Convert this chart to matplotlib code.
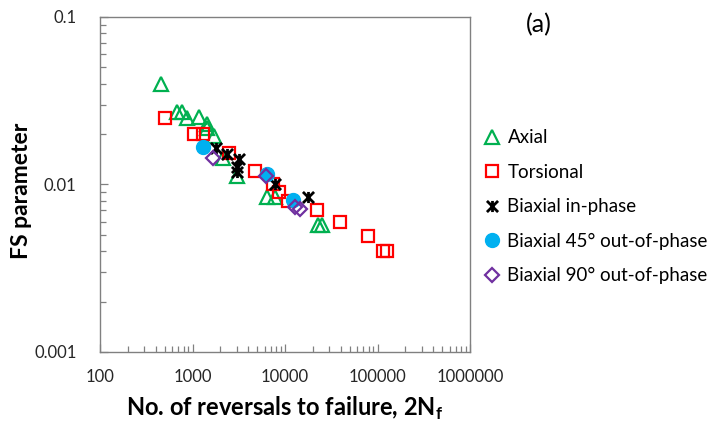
import matplotlib.pyplot as plt
from matplotlib.path import Path
from matplotlib.ticker import FixedLocator, LogLocator, NullFormatter

plt.rcParams["font.family"] = ["Lato", "DejaVu Sans"]

# reversals to failure (2Nf) and FS parameter for each loading path
axial_n = [453, 671, 764, 865, 1175, 1449, 1422, 1687, 2138, 3027, 6340, 7800, 22750, 25120]
axial_fs = [0.0397, 0.0270, 0.0270, 0.0248, 0.0252, 0.0230, 0.0216, 0.0195, 0.0143, 0.0112,
            0.0084, 0.0084, 0.0057, 0.0057]

torsional_n = [505, 1038, 1309, 2500, 4744, 7480, 8670, 10670, 21980, 39360, 79600, 115600, 125700]
torsional_fs = [0.0251, 0.0201, 0.0201, 0.0154, 0.0120, 0.0101, 0.0090, 0.0080, 0.0070, 0.0060,
                0.00495, 0.0040, 0.0040]

inphase_n = [1795, 2345, 3206, 3000, 3000, 7800, 17870]
inphase_fs = [0.0166, 0.0151, 0.0141, 0.0127, 0.0119, 0.0101, 0.0084]

oop45_n = [1310, 6340, 12080]
oop45_fs = [0.0167, 0.01148, 0.0081]

oop90_n = [1649, 6240, 12820, 14520]
oop90_fs = [0.01445, 0.0112, 0.0073, 0.00714]

x_ticks = [100, 1000, 10000, 100000, 1000000]
y_ticks = [0.001, 0.01, 0.1]

# Excel-style star: an X crossed by a short vertical bar
star = Path(
    [(-1, -1), (1, 1), (-1, 1), (1, -1), (0, -1), (0, 1)],
    [Path.MOVETO, Path.LINETO, Path.MOVETO, Path.LINETO, Path.MOVETO, Path.LINETO],
)

fig = plt.figure(figsize=(7.15, 4.24), dpi=100)
ax = fig.add_axes([0.1399, 0.170, 0.5175, 0.790])

ax.plot(axial_n, axial_fs, ls="none", marker="^", ms=10, mfc="none", mec="#00B050", mew=1.6,
        label="Axial")
ax.plot(torsional_n, torsional_fs, ls="none", marker="s", ms=8.5, mfc="none", mec="#FF0000",
        mew=1.6, label="Torsional")
ax.plot(inphase_n, inphase_fs, ls="none", marker=star, ms=8, mfc="none", mec="black", mew=2.0,
        label="Biaxial in-phase")
ax.plot(oop45_n, oop45_fs, ls="none", marker="o", ms=10, mfc="#00B0F0", mec="#00B0F0",
        label="Biaxial 45° out-of-phase")
ax.plot(oop90_n, oop90_fs, ls="none", marker="D", ms=7.5, mfc="none", mec="#7030A0", mew=1.6,
        label="Biaxial 90° out-of-phase")

ax.set_xscale("log")
ax.set_yscale("log")
ax.set_xlim(100, 1000000)
ax.set_ylim(0.001, 0.1)
ax.xaxis.set_major_locator(FixedLocator(x_ticks))
ax.yaxis.set_major_locator(FixedLocator(y_ticks))
ax.set_xticklabels([str(v) for v in x_ticks])
ax.set_yticklabels([str(v) for v in y_ticks])
for axis in (ax.xaxis, ax.yaxis):
    axis.set_minor_locator(LogLocator(base=10, subs=range(2, 10)))
    axis.set_minor_formatter(NullFormatter())

ax.tick_params(which="both", direction="in", color="#808080", width=0.9, labelsize=12,
               labelcolor="#262626", top=False, right=False)
ax.tick_params(which="major", length=6)
ax.tick_params(axis="x", which="major", pad=12)
ax.tick_params(axis="y", which="major", pad=17)
ax.tick_params(which="minor", length=4)
for side in ax.spines.values():
    side.set_color("#808080")
    side.set_linewidth(1.0)

ax.set_xlabel("No. of reversals to failure, 2N$_\\mathregular{f}$", fontsize=17, fontweight="bold",
              labelpad=7)
ax.set_ylabel("FS parameter", fontsize=16.5, fontweight="bold")
ax.yaxis.set_label_coords(-0.184, 0.48)

fig.text(0.753, 0.943, "(a)", fontsize=18, ha="center", va="center")

ax.legend(loc="upper left", bbox_to_anchor=(1.02, 0.687), frameon=False, fontsize=13.5,
          handlelength=0.8, handletextpad=0.4, labelspacing=0.93, borderaxespad=0)

fig.savefig("out.png", dpi=100)
